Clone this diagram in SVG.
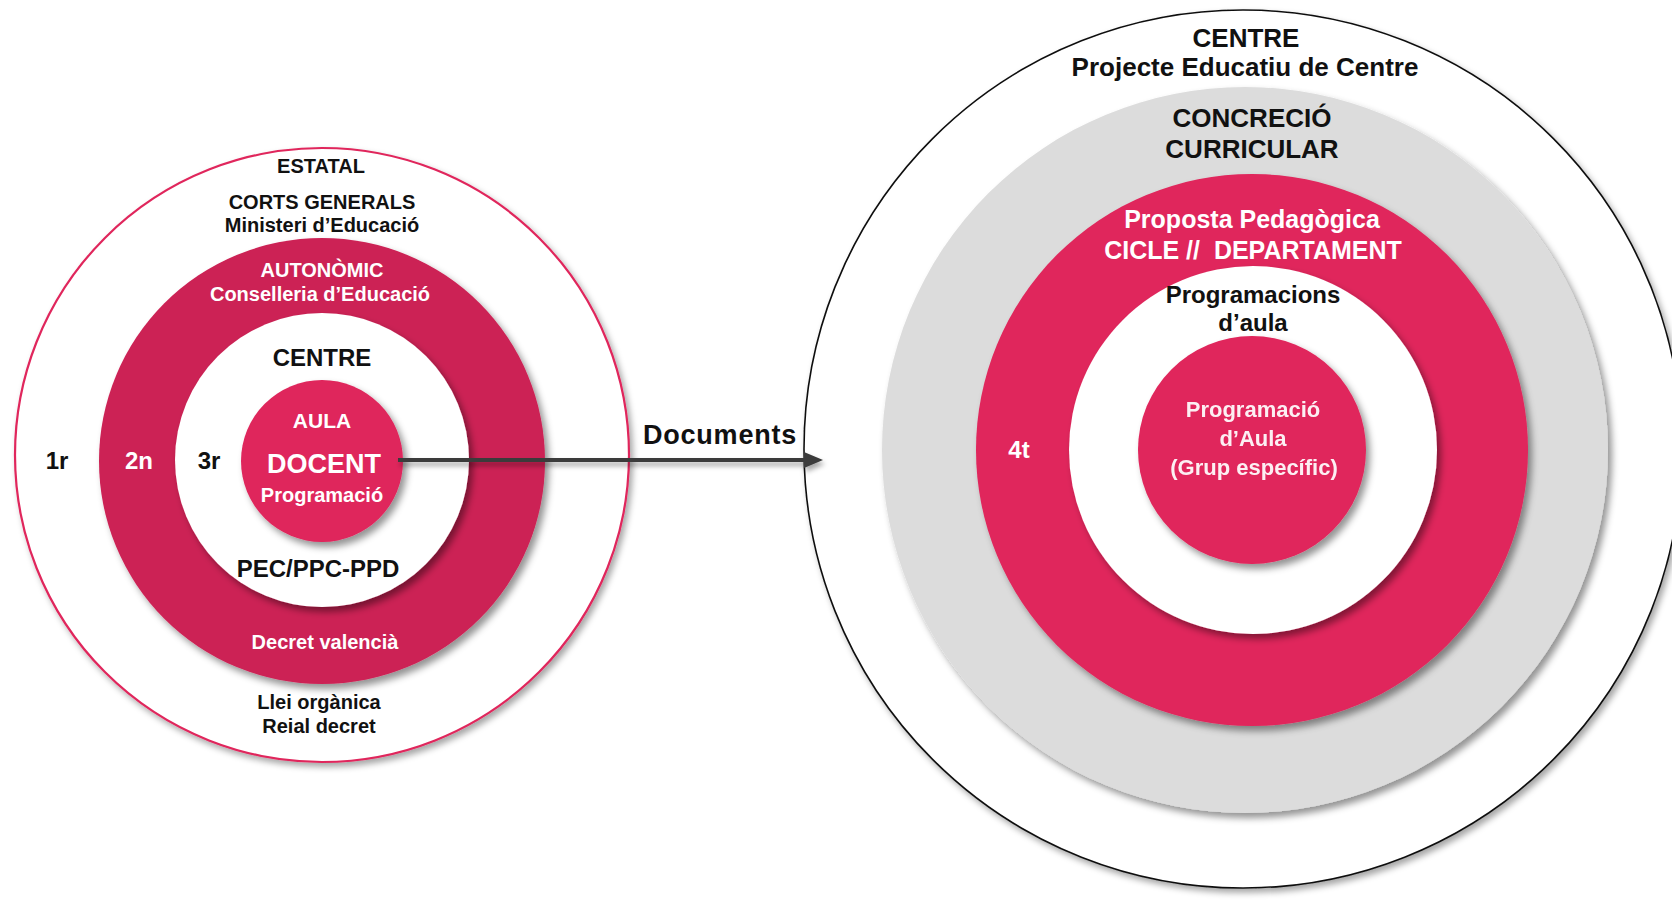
<svg xmlns="http://www.w3.org/2000/svg" width="1672" height="900" viewBox="0 0 1672 900">
<defs>
<filter id="sh" x="-15%" y="-15%" width="135%" height="135%"><feDropShadow dx="4" dy="5" stdDeviation="3.5" flood-color="#000" flood-opacity="0.42"/></filter>
<filter id="shs" x="-15%" y="-15%" width="135%" height="135%"><feDropShadow dx="3" dy="4" stdDeviation="3" flood-color="#000" flood-opacity="0.35"/></filter>
<filter id="shl" filterUnits="userSpaceOnUse" x="0" y="0" width="1672" height="900"><feDropShadow dx="2" dy="4" stdDeviation="2.5" flood-color="#000" flood-opacity="0.35"/></filter>
<marker id="ah" markerUnits="userSpaceOnUse" markerWidth="20" markerHeight="16" viewBox="0 0 20 16" refX="1" refY="8" orient="auto"><path d="M0,0 L19,8 L0,16 z" fill="#3a3a3a"/></marker>
</defs>
<style>
text{font-family:"Liberation Sans",Arial,Helvetica,sans-serif;font-weight:bold;text-anchor:middle}
.k{fill:#111}
.w{fill:#fff}
.s20{font-size:20px}
.s24{font-size:24px}
.s26{font-size:26px}
.pl{fill:#CC2154}
.pi{fill:#DF255B}
.pr{fill:#E0265B}
</style>
<rect width="1672" height="900" fill="#fff"/>

<g id="left-estatal">
<circle cx="322" cy="455" r="307" fill="#fff" stroke="#E0265C" stroke-width="2.2" filter="url(#shs)"/>
<text class="k s20" x="321" y="173">ESTATAL</text>
<text class="k s20" x="322" y="209">CORTS GENERALS</text>
<text class="k s20" x="322" y="232">Ministeri d’Educació</text>
<text class="k s24" x="57" y="469">1r</text>
<text class="k s20" x="319" y="709">Llei orgànica</text>
<text class="k s20" x="319" y="733">Reial decret</text>
</g>

<g id="left-autonomic">
<circle class="pl" cx="322" cy="461" r="223" filter="url(#sh)"/>
<text class="w s20" x="322" y="277">AUTONÒMIC</text>
<text class="w s20" x="320" y="301">Conselleria d’Educació</text>
<text class="w s24" x="139" y="469">2n</text>
<text class="w s20" x="325" y="649">Decret valencià</text>
</g>

<g id="left-centre">
<circle cx="322" cy="460" r="147" fill="#fff" filter="url(#sh)"/>
<text class="k s24" x="322" y="366">CENTRE</text>
<text class="k s24" x="209" y="469">3r</text>
<text class="k s24" x="318" y="577">PEC/PPC-PPD</text>
</g>

<g id="left-aula">
<circle class="pi" cx="322" cy="461" r="81" filter="url(#sh)"/>
<text class="w" style="font-size:21px" x="322" y="428">AULA</text>
<text class="w" style="font-size:27px" x="324" y="473">DOCENT</text>
<text class="w s20" x="322" y="502">Programació</text>
</g>

<g id="right-centre">
<circle cx="1243" cy="449" r="439" fill="#fff" stroke="#111" stroke-width="1.6" filter="url(#shs)"/>
<text class="k s26" x="1246" y="47">CENTRE</text>
<text class="k s26" x="1245" y="76">Projecte Educatiu de Centre</text>
</g>

<g id="right-concrecio">
<circle cx="1245" cy="450" r="363" fill="#DCDCDC" filter="url(#sh)"/>
<text class="k s26" x="1252" y="127">CONCRECIÓ</text>
<text class="k s26" x="1252" y="158">CURRICULAR</text>
</g>

<g id="right-proposta">
<circle class="pr" cx="1252" cy="450" r="276" filter="url(#sh)"/>
<text class="w" style="font-size:25px" x="1252" y="228">Proposta Pedagògica</text>
<text class="w" style="font-size:25px;white-space:pre" x="1253" y="259">CICLE //  DEPARTAMENT</text>
<text class="w s24" x="1019" y="458">4t</text>
</g>

<g id="right-programacions">
<circle cx="1253" cy="450" r="184" fill="#fff" filter="url(#sh)"/>
<text class="k s24" x="1253" y="303">Programacions</text>
<text class="k s24" x="1253" y="331">d’aula</text>
</g>

<g id="right-programacio">
<circle class="pr" cx="1252" cy="450" r="114" filter="url(#sh)"/>
<text class="w" style="font-size:22px;opacity:0.93" x="1253" y="417">Programació</text>
<text class="w" style="font-size:22px;opacity:0.93" x="1253" y="446">d’Aula</text>
<text class="w" style="font-size:22px;opacity:0.93" x="1254" y="475">(Grup específic)</text>
</g>

<g id="connectors">
<line x1="398" y1="460" x2="805" y2="460" stroke="#3a3a3a" stroke-width="4" marker-end="url(#ah)" filter="url(#shl)"/>
<text class="k" style="font-size:27px;letter-spacing:0.8px" x="720" y="444">Documents</text>
</g>
</svg>
